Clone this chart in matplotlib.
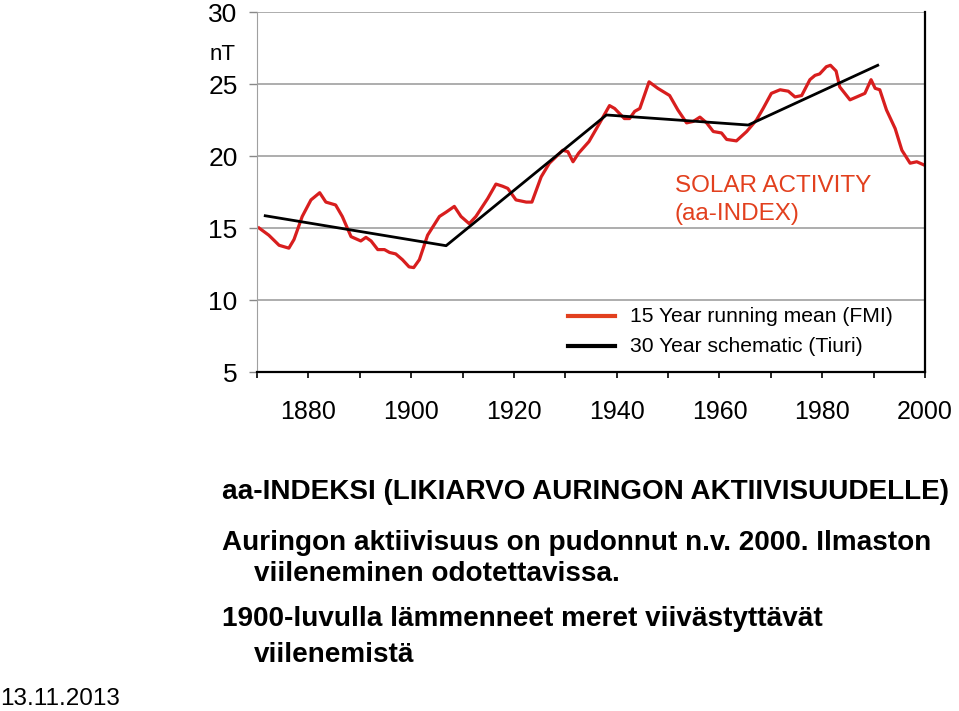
#!/usr/bin/env python3
"""
Solar activity (aa-index) chart
"""
import matplotlib
matplotlib.use('Agg')
import matplotlib.pyplot as plt

# 15 year running mean (FMI)
mean_years = [1870.4, 1872.3, 1874.3, 1876.2, 1877.2, 1878.8, 1880.5, 1882.2, 1883.4,
              1885.3, 1886.6, 1888.3, 1890.2, 1891.2, 1892.2, 1893.5, 1894.8, 1895.8,
              1897.0, 1898.3, 1899.6, 1900.5, 1901.6, 1903.2, 1905.5, 1906.8, 1908.4,
              1909.7, 1911.3, 1912.6, 1914.9, 1916.5, 1917.8, 1918.8, 1920.4, 1922.4,
              1923.5, 1925.3, 1926.9, 1929.5, 1930.5, 1931.5, 1932.6, 1934.6, 1936.7,
              1938.6, 1939.6, 1941.5, 1942.5, 1943.5, 1944.5, 1946.3, 1948.0, 1950.3,
              1951.9, 1953.6, 1954.9, 1956.2, 1957.5, 1958.8, 1960.4, 1961.4, 1963.3,
              1965.3, 1967.2, 1968.5, 1970.1, 1971.8, 1973.4, 1974.7, 1976.0, 1977.6,
              1978.6, 1979.5, 1980.8, 1981.6, 1982.7, 1983.4, 1985.4, 1986.7, 1988.3,
              1989.5, 1990.3, 1991.2, 1992.5, 1994.2, 1995.5, 1997.1, 1998.4, 2000.3]
mean_values = [15.0, 14.5, 13.8, 13.6, 14.2, 15.8, 16.95, 17.45, 16.8,
               16.6, 15.8, 14.4, 14.1, 14.35, 14.1, 13.5, 13.5, 13.3,
               13.2, 12.8, 12.3, 12.25, 12.8, 14.5, 15.8, 16.1, 16.5,
               15.8, 15.3, 15.8, 17.05, 18.05, 17.9, 17.75, 16.95, 16.8,
               16.8, 18.55, 19.5, 20.4, 20.3, 19.6, 20.2, 21.0, 22.3,
               23.5, 23.3, 22.6, 22.6, 23.1, 23.3, 25.15, 24.7, 24.2,
               23.2, 22.3, 22.4, 22.7, 22.3, 21.7, 21.6, 21.15, 21.05,
               21.7, 22.5, 23.3, 24.35, 24.6, 24.5, 24.1, 24.2, 25.3,
               25.6, 25.7, 26.2, 26.3, 25.9, 24.8, 23.9, 24.1, 24.35,
               25.3, 24.7, 24.6, 23.2, 21.9, 20.4, 19.5, 19.6, 19.3]

# 30 year schematic (Tiuri)
schem_years = [1871.6, 1906.8, 1938.0, 1965.6, 1990.8]
schem_values = [15.85, 13.77, 22.85, 22.15, 26.3]

y_ticks = [5, 10, 15, 20, 25, 30]
x_labels = [1880, 1900, 1920, 1940, 1960, 1980, 2000]
x_minor = [1870, 1890, 1910, 1930, 1950, 1970, 1990]

RED = '#d81e1e'
ORANGE = '#e2401e'
W, H = 959, 711


def px(x, y):
  return x / W, 1 - y / H


def main():
  fig = plt.figure(figsize=(W / 100, H / 100), dpi=100)
  ax = fig.add_axes([257 / W, 1 - 372 / H, 668 / W, 360 / H])

  ax.plot(mean_years, mean_values, color=RED, lw=2.3, solid_joinstyle='round')
  ax.plot(schem_years, schem_values, color='black', lw=2.0)

  ax.set_xlim(1870, 2000)
  ax.set_ylim(5, 30)
  ax.set_yticks(y_ticks)
  ax.set_xticks(x_labels)
  ax.set_xticks(x_minor, minor=True)
  ax.set_yticklabels([str(v) for v in y_ticks], fontsize=19, family='Liberation Sans')
  ax.set_xticklabels([str(v) for v in x_labels], fontsize=18, family='Liberation Sans')
  ax.tick_params(axis='y', length=6, color='#888888', pad=8, width=1)
  ax.tick_params(axis='x', which='both', length=4, color='black', width=1.2, pad=16)

  for v in y_ticks[1:]:
    ax.axhline(v, color='#a0a0a0', lw=1.2, zorder=0)
  ax.spines['top'].set_visible(False)
  ax.spines['left'].set_color('#a0a0a0')
  ax.spines['right'].set_color('black')
  ax.spines['right'].set_linewidth(1.6)
  ax.spines['bottom'].set_color('black')
  ax.spines['bottom'].set_linewidth(1.6)

  fig.text(*px(223, 55), 'nT', fontsize=16, ha='center', va='center', family='Liberation Sans')
  fig.text(*px(675, 200), 'SOLAR ACTIVITY\n(aa-INDEX)', fontsize=17.5, color=ORANGE,
           ha='left', va='center', linespacing=1.4, family='Liberation Sans')

  # legend drawn by hand so it sits where the original has it
  fig.add_artist(plt.Line2D([568 / W, 615 / W], [1 - 316 / H] * 2, color=ORANGE, lw=3))
  fig.add_artist(plt.Line2D([568 / W, 615 / W], [1 - 346 / H] * 2, color='black', lw=3))
  fig.text(*px(630, 316), '15 Year running mean (FMI)', fontsize=15.2, va='center',
           family='Liberation Sans')
  fig.text(*px(630, 346), '30 Year schematic (Tiuri)', fontsize=15.2, va='center',
           family='Liberation Sans')

  bold = dict(family=['Liberation Sans Narrow', 'Liberation Sans'], weight='bold',
              fontsize=20.1, va='center', ha='left')
  fig.text(*px(222, 492), 'aa-INDEKSI (LIKIARVO AURINGON AKTIIVISUUDELLE)', **bold)
  fig.text(*px(222, 543), 'Auringon aktiivisuus on pudonnut n.v. 2000. Ilmaston', **bold)
  fig.text(*px(254, 574), 'viileneminen odotettavissa.', **bold)
  fig.text(*px(222, 619), '1900-luvulla lämmenneet meret viivästyttävät', **bold)
  fig.text(*px(254, 655), 'viilenemistä', **bold)
  fig.text(*px(0, 699), '13.11.2013', fontsize=17.5, va='center', family='Liberation Sans')

  fig.savefig('out.png', dpi=100)


if __name__ == '__main__':
  main()
